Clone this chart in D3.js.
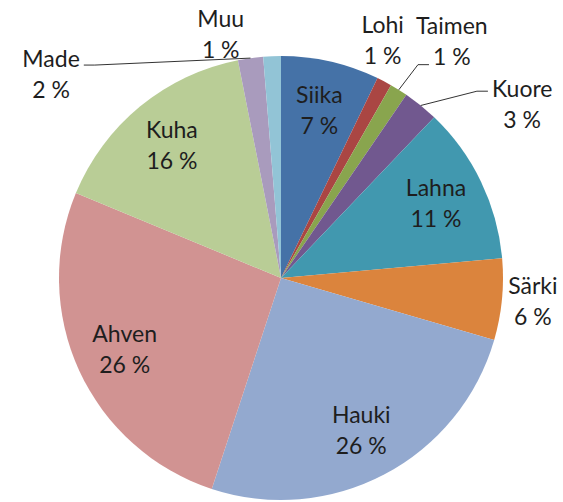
<!DOCTYPE html>
<html>
<head>
<meta charset="utf-8">
<script src="https://cdn.jsdelivr.net/npm/d3@7"></script>
<style>
  html, body { margin: 0; padding: 0; background: #fff; }
  svg text { font-family: Lato, "Open Sans", sans-serif; font-size: 23px; fill: #1e1e1e; }
</style>
</head>
<body>
<div id="chart"></div>
<script>
// fish species, clockwise from 12 o'clock
const species = ['Siika', 'Lohi', 'Taimen', 'Kuore', 'Lahna', 'Särki', 'Hauki', 'Ahven', 'Kuha', 'Made', 'Muu'];
const shares = [7.16, 1.09, 1.30, 2.57, 11.47, 5.91, 25.55, 26.20, 15.64, 1.83, 1.28];
const shareLabels = ['7 %', '1 %', '1 %', '3 %', '11 %', '6 %', '26 %', '26 %', '16 %', '2 %', '1 %'];
const colors = ['#4572A7', '#AA4643', '#89A54E', '#71588F', '#4198AF', '#DB843D',
                '#93A9CF', '#D19392', '#B9CD96', '#A99BBD', '#92C4D6'];

// label placement: null = inside at default radius, otherwise polar (radius px, angle deg)
const labelPlace = [null, { r: 258, a: 23.2 }, { r: 292, a: 35.8 }, { r: 297, a: 54.3 },
                    null, { r: 253, a: 95.3 }, null, null, null, { r: 307, a: 311.5 }, { r: 251, a: 346.1 }];
// which labels get a leader line: text line it attaches to, and vertical nudge
const leaders = { 2: [1, 8], 3: [0, 2], 9: [0, 6] };

const width = 563, height = 502;
const cx = 281, cy = 278, radius = 222;
const lineGap = 31;

const svg = d3.select('#chart').append('svg')
  .attr('width', width)
  .attr('height', height);

const g = svg.append('g').attr('transform', `translate(${cx},${cy})`);

const pie = d3.pie().sort(null).value(d => d);
const arcs = pie(shares);
const arc = d3.arc().innerRadius(0).outerRadius(radius);

g.selectAll('path.slice')
  .data(arcs)
  .enter()
  .append('path')
  .attr('class', 'slice')
  .attr('d', arc)
  .attr('fill', (d, i) => colors[i]);

const polar = (r, rad) => [r * Math.sin(rad), -r * Math.cos(rad)];

arcs.forEach((d, i) => {
  const mid = (d.startAngle + d.endAngle) / 2;
  const p = labelPlace[i]
    ? polar(labelPlace[i].r, labelPlace[i].a * Math.PI / 180)
    : polar(radius * 0.775, mid);

  const label = g.append('text')
    .attr('text-anchor', 'middle');
  const lines = [species[i], shareLabels[i]];
  const tspans = lines.map((t, k) => label.append('tspan')
    .attr('x', p[0])
    .attr('y', p[1] + (k - 0.5) * lineGap)
    .attr('dy', '0.35em')
    .text(t));

  if (leaders[i] !== undefined) {
    const [k, nudge] = leaders[i];
    const w = tspans[k].node().getComputedTextLength();
    const ly = p[1] + (k - 0.5) * lineGap + nudge;
    const side = p[0] > 0 ? -1 : 1;
    const ex = p[0] + side * (w / 2 + 4);
    const elbow = [ex + side * 11, ly];
    const start = polar(radius, mid);
    g.append('polyline')
      .attr('points', [start, elbow, [ex, ly]].map(q => q.join(',')).join(' '))
      .attr('fill', 'none')
      .attr('stroke', '#333')
      .attr('stroke-width', 1);
  }
});
</script>
</body>
</html>
